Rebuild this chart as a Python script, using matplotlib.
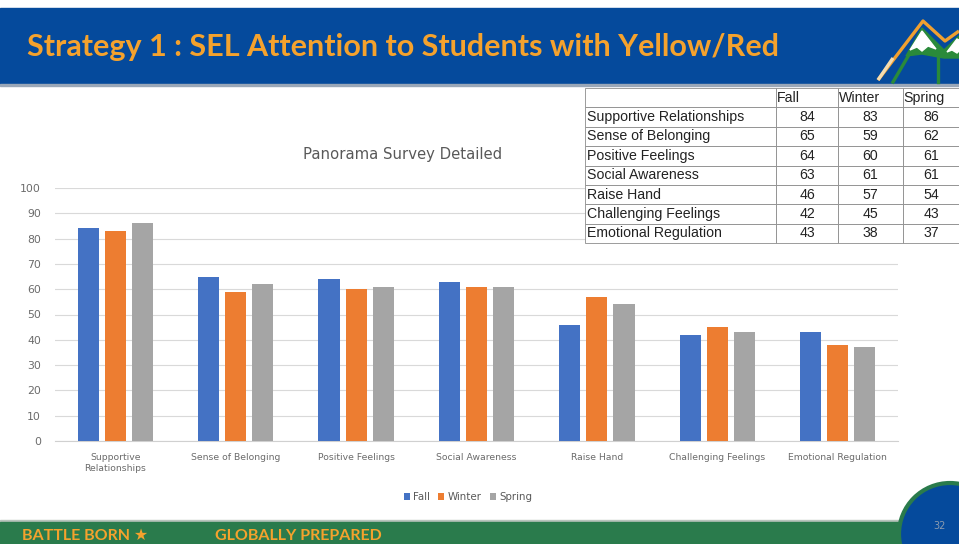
import matplotlib.pyplot as plt
import numpy as np
from matplotlib.patches import Rectangle, Circle, Polygon

categories = ["Supportive Relationships", "Sense of Belonging", "Positive Feelings",
              "Social Awareness", "Raise Hand", "Challenging Feelings", "Emotional Regulation"]
tick_labels = ["Supportive\nRelationships", "Sense of Belonging", "Positive Feelings",
               "Social Awareness", "Raise Hand", "Challenging Feelings", "Emotional Regulation"]
seasons = ["Fall", "Winter", "Spring"]
fall = [84, 65, 64, 63, 46, 42, 43]
winter = [83, 59, 60, 61, 57, 45, 38]
spring = [86, 62, 61, 61, 54, 43, 37]
colors = ["#4472C4", "#ED7D31", "#A5A5A5"]

W, H = 959, 544
fig = plt.figure(figsize=(W / 100, H / 100), dpi=100)

# overlay in pixel coords for slide decorations
deco = fig.add_axes([0, 0, 1, 1], zorder=0)
deco.set_xlim(0, W)
deco.set_ylim(H, 0)
deco.axis("off")

deco.add_patch(Rectangle((0, 8), W, 76, color="#054A9C"))
deco.add_patch(Rectangle((0, 84), W, 2, color="#9AA7B8"))
deco.text(27, 47, "Strategy 1 : SEL Attention to Students with Yellow/Red", color="#F5A22D",
          fontsize=22, fontweight="bold", family="Lato", va="center", ha="left")

# mountain logo
deco.add_patch(Polygon([(906, 56), (922, 28), (944, 50), (959, 36), (959, 58),
                        (944, 58), (922, 54)], color="#2A8A3A"))
deco.add_patch(Polygon([(922, 31), (910, 50), (917, 47), (922, 51), (928, 46), (936, 49)],
                       color="white"))
deco.add_patch(Polygon([(957, 39), (947, 52), (952, 50), (957, 53), (959, 51), (959, 40)],
                       color="white"))
deco.plot([878, 923, 945, 959], [80, 21, 41, 31], color="#F0A030", lw=2.4,
          solid_capstyle="butt")
deco.plot([878, 893], [80, 58], color="#F5DDB0", lw=2.4, solid_capstyle="butt")
deco.plot([893, 910], [82, 53], color="#2A8A3A", lw=2.4)
deco.plot([938, 938], [82, 56], color="#2A8A3A", lw=2.4)

# footer
deco.add_patch(Rectangle((0, 520), W, 2, color="#B8C4BC"))
deco.add_patch(Rectangle((0, 522), W, 22, color="#2A7B4C"))
deco.text(22, 536, "BATTLE BORN \u2605", color="#F5A22D", fontsize=11.5, fontweight="bold",
          family=["Lato", "DejaVu Sans"], va="center")
deco.text(215, 536, "GLOBALLY PREPARED", color="#F5A22D", fontsize=11.5, fontweight="bold",
          family="Lato", va="center")
deco.add_patch(Circle((950, 534), 51, facecolor="#054A9C", edgecolor="#2A7B4C", lw=3))
deco.text(940, 526, "32", color="#8A9BB0", fontsize=7, ha="center", va="center")

# chart
ax = fig.add_axes([55 / W, (H - 441) / H, 843 / W, (441 - 188) / H], zorder=1)
ax.patch.set_alpha(0)
x = np.arange(len(categories))
bw = 0.175
for i, (vals, name) in enumerate(zip([fall, winter, spring], seasons)):
    ax.bar(x + (i - 1) * 0.225, vals, bw, color=colors[i], label=name, zorder=3)

ax.set_xlim(-0.5, len(categories) - 0.5)
ax.set_ylim(0, 100)
ax.set_yticks(range(0, 101, 10))
ax.grid(axis="y", color="#D9D9D9", lw=0.8, zorder=0)
for s in ["top", "right", "left"]:
    ax.spines[s].set_visible(False)
ax.spines["bottom"].set_color("#D0D0D0")
ax.tick_params(axis="both", length=0, colors="#6B6B6B")
ax.tick_params(axis="y", pad=10, labelsize=7.8)
ax.set_xticks(x)
ax.set_xticklabels(tick_labels, fontsize=6.7)
ax.tick_params(axis="x", pad=9)
ax.legend(loc="center", bbox_to_anchor=(413 / 843, -56 / 253), ncol=3, frameon=False,
          fontsize=7.4, handlelength=0.6, handleheight=0.6, handletextpad=0.3,
          columnspacing=0.8, labelcolor="#595959")
fig.text(403 / W, 1 - 155 / H, "Panorama Survey Detailed", ha="center", va="center",
         fontsize=10.7, color="#595959")

# data table overlay
tab_ax = fig.add_axes([585 / W, (H - 243) / H, (W - 585) / W, (243 - 88) / H], zorder=2)
tab_ax.axis("off")
cell_text = [["", *seasons]] + [[c, str(a), str(b), str(d)]
                                for c, a, b, d in zip(categories, fall, winter, spring)]
tbl = tab_ax.table(cellText=cell_text, bbox=[0, 0, 1, 1],
                   colWidths=[191, 62, 65, 56], cellLoc="center")
tbl.auto_set_font_size(False)
for (r, c), cell in tbl.get_celld().items():
    cell.set_facecolor("white")
    cell.set_edgecolor("#8C8C8C")
    cell.set_linewidth(0.6)
    cell.get_text().set_fontsize(10.2)
    cell.get_text().set_family("Liberation Sans")
    cell.get_text().set_color("#222222")
    if c == 0 or r == 0:
        cell.get_text().set_ha("left")
        cell.PAD = 0.01

fig.savefig("out.png", dpi=100)
